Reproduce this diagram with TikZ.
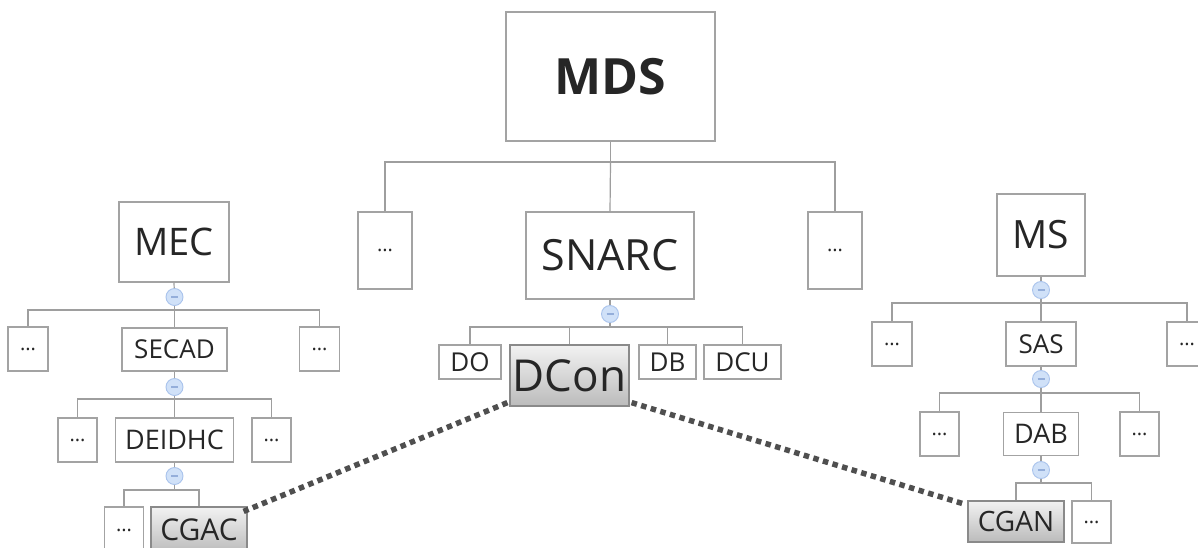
\documentclass[tikz,border=0pt]{standalone}
\usepackage{fontspec}
\setmainfont{Open Sans}
\usetikzlibrary{calc}

\definecolor{boxline}{HTML}{A3A3A3}
\definecolor{treeline}{HTML}{9E9E9E}
\definecolor{ink}{HTML}{262626}
\definecolor{hotline}{HTML}{8A8A8A}
\definecolor{hottop}{HTML}{F2F2F2}
\definecolor{hotbottom}{HTML}{BBBBBB}
\definecolor{togglefill}{HTML}{D0E1F8}
\definecolor{togglering}{HTML}{A9C3EC}
\definecolor{togglebar}{HTML}{94AEDA}
\definecolor{linkgray}{HTML}{4F4F4F}

\newcommand\fs[1]{\fontsize{#1}{#1}\selectfont}

\tikzset{
  box/.style={draw=boxline, line width=1.2pt, fill=white, inner sep=0pt,
              text=ink, align=center},
  hot/.style={box, draw=hotline, top color=hottop, bottom color=hotbottom},
  more/.style={box, font=\fs{20}},
  tree/.style={draw=treeline, line width=1.2pt},
  toggle/.style={circle, draw=togglering, fill=togglefill, minimum size=17pt,
                 inner sep=0pt, line width=0.9pt,
                 path picture={\draw[togglebar, line width=1.1pt]
                   ($(path picture bounding box.center)+(-3.5pt,0)$) -- ++(7pt,0);}},
  link/.style={draw=linkgray, line width=5.5pt, dash pattern=on 5.5pt off 4.5pt},
}

\begin{document}
\begin{tikzpicture}[x=1pt, y=-1pt]
\useasboundingbox[fill=white] (0,0) rectangle (1198,547);

% ---- root and first level ----
\node[box, minimum width=209pt, minimum height=129pt, font=\fs{50}\bfseries] (MDS) at (610.5,76.5) {MDS};
\node[more, minimum width=54pt, minimum height=77pt] (dA) at (385,250.5) {...};
\node[box, minimum width=168pt, minimum height=87pt, font=\fs{43}] (SNARC) at (610,255.5) {SNARC};
\node[more, minimum width=54pt, minimum height=77pt] (dB) at (835,250.5) {...};

\coordinate (jMDS) at (610.5,162);
\draw[tree] (MDS.south) -- (jMDS);
\draw[tree] (dA.north) |- (jMDS) -| (dB.north);
\draw[tree] (jMDS) -- (SNARC.north);

% ---- SNARC children ----
\node[box, minimum width=62pt, minimum height=34pt, font=\fs{26}] (DO) at (470,362) {DO};
\node[hot, minimum width=119pt, minimum height=61pt, font=\fs{44}] (DCon) at (569.5,375.5) {DCon};
\node[box, minimum width=57pt, minimum height=34pt, font=\fs{26}] (DB) at (667.5,362) {DB};
\node[box, minimum width=77pt, minimum height=34pt, font=\fs{26}] (DCU) at (742.5,362) {DCU};

\node[toggle] (c0) at (610,314) {};
\coordinate (jS) at (610,327);
\draw[tree] (SNARC.south) -- (c0);
\draw[tree] (c0) -- (jS);
\draw[tree] (DO.north) |- (jS) -| (DCU.north);
\draw[tree] (DCon.north) -- (DCon.north |- jS);
\draw[tree] (DB.north) -- (DB.north |- jS);

% ---- left branch: MEC ----
\node[box, minimum width=110pt, minimum height=80pt, font=\fs{38}] (MEC) at (174,242) {MEC};
\node[toggle] (cL1) at (174.5,297) {};
\coordinate (jL1) at (174.5,310);
\node[more, minimum width=40pt, minimum height=44pt] (dL1a) at (28,349) {...};
\node[box, minimum width=105pt, minimum height=43pt, font=\fs{26}] (SECAD) at (174.5,349.5) {SECAD};
\node[more, minimum width=40pt, minimum height=44pt] (dL1b) at (319.5,349) {...};
\draw[tree] (MEC.south) -- (cL1);
\draw[tree] (cL1) -- (jL1);
\draw[tree] (dL1a.north) |- (jL1) -| (dL1b.north);
\draw[tree] (jL1) -- (SECAD.north);

\node[toggle] (cL2) at (174.5,387) {};
\coordinate (jL2) at (174.5,399);
\node[more, minimum width=39pt, minimum height=44pt] (dL2a) at (77.5,440) {...};
\node[box, minimum width=118pt, minimum height=44pt, font=\fs{27}] (DEIDHC) at (174.5,440) {DEIDHC};
\node[more, minimum width=39pt, minimum height=44pt] (dL2b) at (271.5,440) {...};
\draw[tree] (SECAD.south) -- (cL2);
\draw[tree] (cL2) -- (jL2);
\draw[tree] (dL2a.north) |- (jL2) -| (dL2b.north);
\draw[tree] (jL2) -- (DEIDHC.north);

\node[toggle] (cL3) at (174.5,476) {};
\coordinate (jL3) at (174.5,490);
\node[more, minimum width=39pt, minimum height=46pt] (dL3) at (124,530) {...};
\node[hot, minimum width=96pt, minimum height=46pt, font=\fs{30}] (CGAC) at (199,530) {CGAC};
\draw[tree] (DEIDHC.south) -- (cL3);
\draw[tree] (cL3) -- (jL3);
\draw[tree] (dL3.north) |- (jL3) -| (CGAC.north);

% ---- right branch: MS ----
\node[box, minimum width=88pt, minimum height=82pt, font=\fs{39}] (MS) at (1041,235) {MS};
\node[toggle] (cR1) at (1041,290) {};
\coordinate (jR1) at (1041,303);
\node[more, minimum width=40pt, minimum height=44pt] (dR1a) at (892,344) {...};
\node[box, minimum width=70pt, minimum height=44pt, font=\fs{26}] (SAS) at (1041,344) {SAS};
\node[more, minimum width=40pt, minimum height=44pt] (dR1b) at (1187,344) {...};
\draw[tree] (MS.south) -- (cR1);
\draw[tree] (cR1) -- (jR1);
\draw[tree] (dR1a.north) |- (jR1) -| (dR1b.north);
\draw[tree] (jR1) -- (SAS.north);

\node[toggle] (cR2) at (1041,379) {};
\coordinate (jR2) at (1041,393);
\node[more, minimum width=39pt, minimum height=44pt] (dR2a) at (939.5,434) {...};
\node[box, minimum width=75pt, minimum height=43pt, font=\fs{27}] (DAB) at (1041,434) {DAB};
\node[more, minimum width=39pt, minimum height=44pt] (dR2b) at (1139.5,434) {...};
\draw[tree] (SAS.south) -- (cR2);
\draw[tree] (cR2) -- (jR2);
\draw[tree] (dR2a.north) |- (jR2) -| (dR2b.north);
\draw[tree] (jR2) -- (DAB.north);

\node[toggle] (cR3) at (1041,470) {};
\coordinate (jR3) at (1041,483);
\node[hot, minimum width=96pt, minimum height=41pt, font=\fs{28}] (CGAN) at (1016,521.5) {CGAN};
\node[more, minimum width=39pt, minimum height=42pt] (dR3) at (1091.5,522) {...};
\draw[tree] (DAB.south) -- (cR3);
\draw[tree] (cR3) -- (jR3);
\draw[tree] (CGAN.north) |- (jR3) -| (dR3.north);

% ---- cross links from DCon ----
\draw[link] ($(DCon.south west)+(-2,-4)$) -- ($(CGAC.north east)+(-4,5)$);
\draw[link] ($(DCon.south east)+(2,-4)$) -- ($(CGAN.north west)+(-2,4)$);
\end{tikzpicture}
\end{document}
